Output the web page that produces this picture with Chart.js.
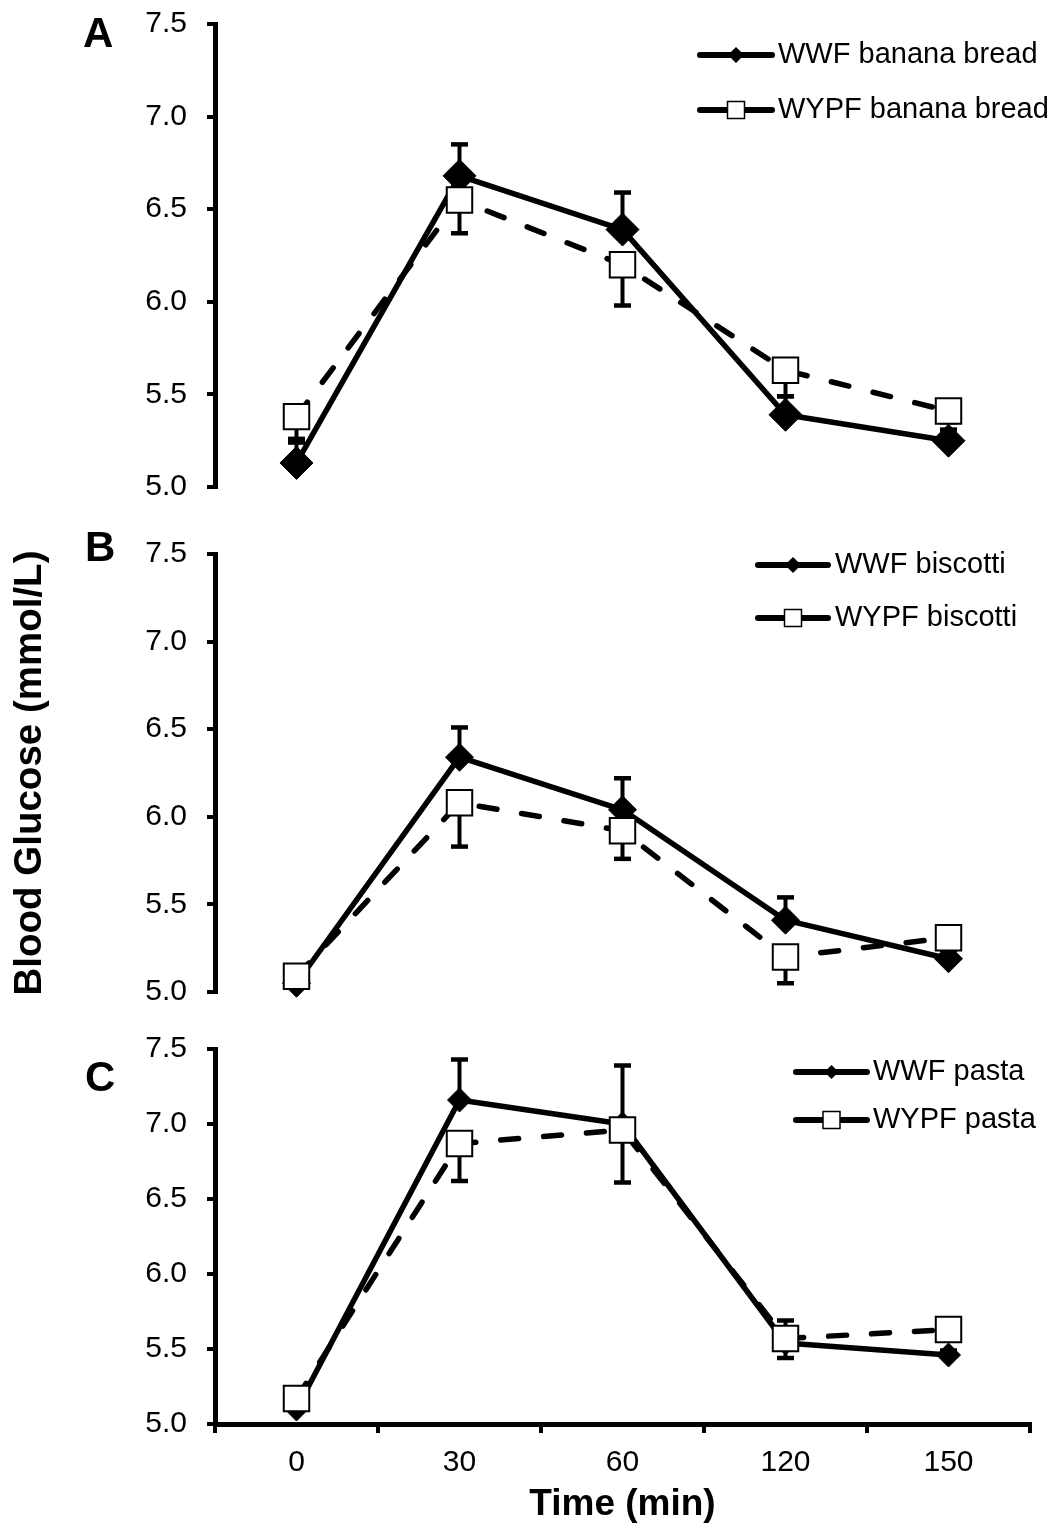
<!DOCTYPE html>
<html>
<head>
<meta charset="utf-8">
<script src="https://cdn.jsdelivr.net/npm/chart.js"></script>
<style>
  body { margin: 0; background: #fff; overflow: hidden; }
  #wrap { position: relative; width: 1055px; height: 1532px; overflow: hidden; }
  canvas { position: absolute; left: 0; }
  .lbl { position: absolute; font: bold 42px 'Liberation Sans', Arial, sans-serif; line-height: 1; color: #000; }
</style>
</head>
<body>
<div id="wrap">
  <canvas id="panelA" width="1055" height="551" style="top:-20px"></canvas>
  <canvas id="panelB" width="1055" height="526" style="top:510px"></canvas>
  <canvas id="panelC" width="1055" height="527" style="top:1005px"></canvas>
  <div class="lbl" style="left:83px;top:12px">A</div>
  <div class="lbl" style="left:85px;top:526px">B</div>
  <div class="lbl" style="left:85px;top:1056px">C</div>
</div>
<script>
const timePoints = ['0', '30', '60', '120', '150'];
const yTicks = [5.0, 5.5, 6.0, 6.5, 7.0, 7.5];
const foods = ['banana bread', 'biscotti', 'pasta'];

// A - banana bread
const wwfBanana = [5.13, 6.68, 6.39, 5.39, 5.25];
const wwfBananaSem = [0.11, 0.17, 0.20, 0.10, 0.06];
const wypfBanana = [5.38, 6.55, 6.20, 5.63, 5.41];
const wypfBananaSem = [0.12, 0.18, 0.22, 0.14, 0.06];

// B - biscotti
const wwfBiscotti = [5.05, 6.34, 6.04, 5.41, 5.19];
const wwfBiscottiSem = [0.05, 0.17, 0.18, 0.13, 0.05];
const wypfBiscotti = [5.09, 6.08, 5.92, 5.20, 5.31];
const wypfBiscottiSem = [0.05, 0.25, 0.16, 0.15, 0.05];

// C - pasta
const wwfPasta = [5.10, 7.16, 7.00, 5.54, 5.46];
const wwfPastaSem = [0.05, 0.27, 0.39, 0.15, 0.03];
const wypfPasta = [5.17, 6.87, 6.96, 5.57, 5.63];
const wypfPastaSem = [0.05, 0.25, 0.35, 0.13, 0.05];

const FONT = "'Liberation Sans', Arial, sans-serif";
Chart.defaults.font.family = FONT;
Chart.defaults.color = '#000';

// SEM bars: WWF drawn upwards, WYPF downwards
const errorBars = {
  id: 'errorBars',
  beforeDatasetsDraw(chart) {
    const ctx = chart.ctx;
    const y = chart.scales.y;
    chart.data.datasets.forEach((ds, i) => {
      const meta = chart.getDatasetMeta(i);
      ctx.save();
      ctx.strokeStyle = '#000';
      meta.data.forEach((pt, j) => {
        const y0 = y.getPixelForValue(ds.data[j]);
        const y1 = y.getPixelForValue(ds.data[j] + ds.semDir * ds.sem[j]);
        ctx.lineWidth = 4;
        ctx.beginPath(); ctx.moveTo(pt.x, y0); ctx.lineTo(pt.x, y1); ctx.stroke();
        ctx.lineWidth = 4.5;
        ctx.beginPath(); ctx.moveTo(pt.x - 8.5, y1); ctx.lineTo(pt.x + 8.5, y1); ctx.stroke();
      });
      ctx.restore();
    });
  }
};

// legend as in the figure: line with marker in the middle, then text
const lineLegend = {
  id: 'lineLegend',
  afterDraw(chart, args, opts) {
    const ctx = chart.ctx;
    chart.data.datasets.forEach((ds, i) => {
      const y = opts.rows[i];
      const mx = (opts.x0 + opts.x1) / 2;
      ctx.save();
      ctx.strokeStyle = '#000';
      ctx.lineWidth = 6;
      ctx.lineCap = 'round';
      ctx.beginPath(); ctx.moveTo(opts.x0, y); ctx.lineTo(opts.x1, y); ctx.stroke();
      ctx.lineCap = 'butt';
      ctx.lineWidth = 1.5;
      ctx.beginPath();
      if (ds.pointStyle === 'rectRot') {
        const r = opts.diamond;
        ctx.moveTo(mx, y - r); ctx.lineTo(mx + r, y); ctx.lineTo(mx, y + r); ctx.lineTo(mx - r, y);
        ctx.closePath();
        ctx.fillStyle = '#000';
      } else {
        const h = opts.square;
        ctx.rect(mx - h, y - h, 2 * h, 2 * h);
        ctx.fillStyle = '#fff';
      }
      ctx.fill(); ctx.stroke();
      ctx.fillStyle = '#000';
      ctx.font = '29px ' + FONT;
      ctx.textBaseline = 'middle';
      ctx.textAlign = 'left';
      ctx.fillText(ds.label, opts.textX, y);
      ctx.restore();
    });
  }
};

function makeChart(id, food, wwf, wwfSem, wypf, wypfSem, look) {
  const xScale = {
    type: 'category',
    offset: true,
    display: look.showX,
    grid: { offset: true, drawOnChartArea: false, color: '#000', lineWidth: 4, tickLength: 9 },
    border: { color: '#000', width: 5 },
    ticks: { font: { size: 30 }, padding: 12, color: '#000' },
    title: { display: look.showX, text: 'Time (min)', font: { size: 37, weight: 'bold' }, padding: { top: 0, bottom: 5 }, color: '#000' }
  };
  if (look.showX) xScale.afterFit = s => { s.height = 108; };

  return new Chart(document.getElementById(id), {
    type: 'line',
    data: {
      labels: timePoints,
      datasets: [
        {
          label: 'WWF ' + food, data: wwf, sem: wwfSem, semDir: 1,
          borderColor: '#000', backgroundColor: '#000', borderWidth: 5.5,
          borderCapStyle: 'round', borderJoinStyle: 'round',
          pointStyle: 'rectRot', pointRadius: look.diamond, pointBorderWidth: 1,
          pointBackgroundColor: '#000', pointBorderColor: '#000',
          tension: 0, clip: false, order: 1
        },
        {
          label: 'WYPF ' + food, data: wypf, sem: wypfSem, semDir: -1,
          borderColor: '#000', backgroundColor: '#fff', borderWidth: 5.5,
          borderDash: [18, 25], borderCapStyle: 'round', borderJoinStyle: 'round',
          pointStyle: 'rect', pointRadius: look.square, pointBorderWidth: 2,
          pointBackgroundColor: '#fff', pointBorderColor: '#000',
          tension: 0, clip: false, order: 0
        }
      ]
    },
    options: {
      responsive: false,
      animation: false,
      devicePixelRatio: 1,
      events: [],
      layout: { padding: look.padding },
      plugins: {
        legend: { display: false },
        tooltip: { enabled: false },
        lineLegend: look.legend
      },
      scales: {
        x: xScale,
        y: {
          min: yTicks[0],
          max: yTicks[yTicks.length - 1],
          afterBuildTicks: s => { s.ticks = yTicks.map(v => ({ value: v })); },
          afterFit: s => { s.width = 215; },
          ticks: { font: { size: 30 }, padding: 20, color: '#000', callback: v => Number(v).toFixed(1) },
          grid: { drawOnChartArea: false, color: '#000', lineWidth: 4, tickLength: 8 },
          border: { color: '#000', width: 5 },
          title: look.yTitle ? {
            display: true, text: 'Blood Glucose (mmol/L)',
            font: { size: 38.5, weight: 'bold' }, padding: { top: 7, bottom: 0 }, color: '#000'
          } : { display: false }
        }
      }
    },
    plugins: [errorBars, lineLegend]
  });
}

// canvas-local coordinates: canvas A starts at -20, B at 510, C at 1005
makeChart('panelA', foods[0], wwfBanana, wwfBananaSem, wypfBanana, wypfBananaSem, {
  showX: false, yTitle: false, diamond: 16.5, square: 18,
  padding: { top: 44, bottom: 44, left: 0, right: 25 },
  legend: { x0: 700, x1: 772, textX: 778, rows: [75, 130], diamond: 7, square: 8.5 }
});

makeChart('panelB', foods[1], wwfBiscotti, wwfBiscottiSem, wypfBiscotti, wypfBiscottiSem, {
  showX: false, yTitle: true, diamond: 14, square: 18,
  padding: { top: 44, bottom: 44, left: 0, right: 25 },
  legend: { x0: 758, x1: 828, textX: 835, rows: [55, 108], diamond: 7, square: 8.5 }
});

makeChart('panelC', foods[2], wwfPasta, wwfPastaSem, wypfPasta, wypfPastaSem, {
  showX: true, yTitle: false, diamond: 12, square: 18,
  padding: { top: 44, bottom: 0, left: 0, right: 25 },
  legend: { x0: 796, x1: 867, textX: 873, rows: [67, 115], diamond: 6, square: 8.5 }
});
</script>
</body>
</html>
